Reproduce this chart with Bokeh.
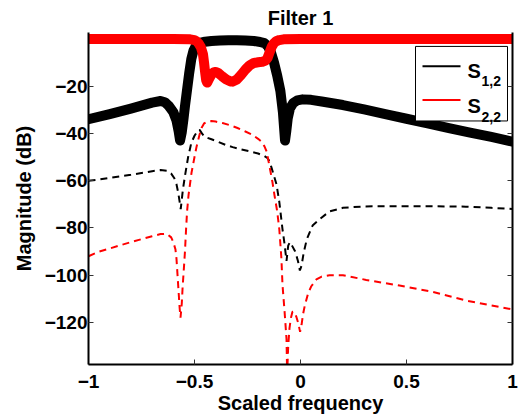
from bokeh.plotting import figure
from bokeh.models import Range1d, LinearAxis, FixedTicker, CustomJSTickFormatter, Label
from bokeh.embed import file_html
from bokeh.resources import INLINE

FONT = "Liberation Sans"

# ---- data ----
x_ticks = [-1, -0.5, 0, 0.5, 1]
y_ticks = [-120, -100, -80, -60, -40, -20]

s12_x = [-1.0, -0.9, -0.8, -0.7, -0.66, -0.64, -0.62, -0.60, -0.585, -0.575, -0.568, -0.56,
         -0.552, -0.545, -0.535, -0.525, -0.515, -0.505, -0.495, -0.485, -0.47, -0.45, -0.42, -0.38,
         -0.34, -0.30, -0.26, -0.22, -0.19, -0.17, -0.155, -0.14, -0.125, -0.11, -0.095, -0.083,
         -0.078, -0.073, -0.067, -0.06, -0.05, -0.035, -0.015, 0.01, 0.05, 0.1, 0.2, 0.3,
         0.4, 0.5, 0.6, 0.7, 0.8, 0.9, 1.0]
s12_db = [-34.0, -31.8, -29.5, -27.0, -26.3, -26.8, -28.5, -31.0, -34.5, -39.0, -43.0, -39.5,
          -34.0, -28.5, -21.5, -14.5, -8.5, -5.0, -3.2, -2.3, -1.6, -1.2, -0.9, -0.7,
          -0.6, -0.6, -0.7, -0.9, -1.3, -1.8, -3.0, -5.5, -10.0, -15.5, -22.0, -31.0,
          -37.0, -43.0, -39.0, -33.5, -29.5, -27.2, -26.0, -25.6, -25.8, -26.5, -28.0, -29.8,
          -31.8, -33.8, -35.8, -37.8, -39.7, -41.5, -43.5]

s22_x = [-1.0, -0.6, -0.52, -0.5, -0.49, -0.48, -0.47, -0.46, -0.455, -0.45, -0.445, -0.44,
         -0.432, -0.42, -0.41, -0.40, -0.39, -0.37, -0.35, -0.33, -0.32, -0.30, -0.28, -0.26,
         -0.24, -0.22, -0.20, -0.18, -0.165, -0.155, -0.145, -0.135, -0.125, -0.115, -0.10, -0.08,
         0.0, 0.5, 1.0]
s22_db = [-0.1, -0.1, -0.2, -0.5, -1.0, -2.0, -3.5, -6.5, -10.0, -14.0, -17.5, -18.5,
          -17.0, -15.0, -14.2, -14.0, -14.3, -15.8, -17.2, -18.0, -18.1, -17.2, -15.2, -13.0,
          -11.2, -10.2, -9.9, -9.7, -9.2, -8.0, -5.5, -3.2, -1.8, -1.0, -0.5, -0.2,
          -0.1, -0.1, -0.1]

s12_ref_x = [-1.0, -0.95, -0.9, -0.8, -0.7, -0.66, -0.63, -0.61, -0.595, -0.585, -0.577, -0.57,
             -0.565, -0.56, -0.555, -0.545, -0.53, -0.515, -0.5, -0.485, -0.476, -0.465, -0.453, -0.42,
             -0.39, -0.35, -0.32, -0.28, -0.24, -0.2, -0.17, -0.155, -0.145, -0.135, -0.125, -0.113,
             -0.1, -0.085, -0.075, -0.066, -0.058, -0.05, -0.04, -0.025, -0.012, -0.003, 0.005, 0.015,
             0.03, 0.057, 0.09, 0.137, 0.2, 0.3, 0.47, 0.6, 0.78, 0.9, 1.0]
s12_ref_db = [-60.0, -59.5, -58.8, -57.5, -56.0, -55.5, -55.8, -57.0, -59.0, -61.5, -65.0, -69.0,
              -72.0, -68.0, -64.0, -58.0, -50.0, -44.0, -41.0, -39.0, -38.5, -40.0, -41.4, -42.5,
              -43.5, -45.0, -45.8, -46.8, -47.6, -48.5, -49.6, -50.5, -52.0, -55.0, -58.0, -61.6,
              -69.0, -80.5, -87.0, -94.0, -87.5, -86.0, -87.5, -90.0, -94.0, -98.0, -96.0, -90.5,
              -84.7, -79.0, -76.3, -73.0, -71.5, -70.9, -70.8, -70.8, -71.0, -71.5, -72.0]

s22_ref_x = [-1.0, -0.95, -0.9, -0.8, -0.7, -0.66, -0.63, -0.61, -0.6, -0.59, -0.585, -0.58,
             -0.575, -0.57, -0.566, -0.56, -0.556, -0.55, -0.545, -0.54, -0.535, -0.528, -0.514, -0.5,
             -0.49, -0.476, -0.467, -0.455, -0.44, -0.42, -0.4, -0.368, -0.33, -0.297, -0.26, -0.226,
             -0.2, -0.184, -0.17, -0.16, -0.146, -0.132, -0.123, -0.11, -0.1, -0.09, -0.085, -0.075,
             -0.066, -0.063, -0.058, -0.052, -0.045, -0.038, -0.03, -0.02, -0.01, -0.002, 0.005, 0.012,
             0.02, 0.035, 0.05, 0.075, 0.1, 0.137, 0.2, 0.31, 0.467, 0.62, 0.78, 0.9, 1.0]
s22_ref_db = [-92.0, -90.0, -88.7, -86.0, -83.5, -82.6, -82.5, -84.0, -86.0, -89.0, -93.0, -100.0,
              -107.0, -114.0, -118.0, -112.0, -105.0, -97.0, -90.0, -81.0, -73.0, -66.0, -56.6, -50.0,
              -45.5, -40.5, -37.7, -35.8, -35.0, -34.8, -35.0, -35.6, -36.6, -37.7, -39.2, -40.6,
              -42.3, -43.5, -45.5, -47.6, -54.0, -60.8, -66.0, -73.0, -80.5, -93.0, -104.0, -115.5,
              -127.0, -142.0, -130.0, -122.5, -118.0, -115.5, -115.5, -117.5, -120.5, -124.0, -121.0, -116.5,
              -113.0, -108.0, -104.8, -101.8, -100.6, -100.0, -100.0, -102.0, -104.4, -107.0, -110.7, -112.8, -114.5]

legend_labels = [("S", "1,2"), ("S", "2,2")]
legend_colors = ["black", "red"]

# ---- figure ----
X_MIN, X_MAX = -1.0, 1.0
Y_MIN, Y_MAX = -137.8, 2.7
FRAME_W, FRAME_H = 424.0, 334.0

p = figure(width=522, height=416, output_backend="svg", toolbar_location=None,
           x_range=Range1d(X_MIN, X_MAX), y_range=Range1d(Y_MIN, Y_MAX),
           min_border_left=88, min_border_right=10, min_border_top=32, min_border_bottom=50,
           title="Filter 1")
p.outline_line_color = None
p.xgrid.visible = False
p.ygrid.visible = False
p.background_fill_color = "white"
p.border_fill_color = "white"

p.title.text_font = FONT
p.title.text_font_size = "20px"
p.title.text_font_style = "bold"
p.title.text_color = "black"
p.title.align = "center"
p.title.standoff = 8

minus_fmt = "return (tick < 0 ? '\u2212' : '') + Math.abs(tick);"

def style_axis(ax):
    ax.axis_line_width = 2
    ax.axis_line_color = "black"
    ax.major_tick_in = 5
    ax.major_tick_out = 0
    ax.major_tick_line_color = "#333333"
    ax.minor_tick_line_color = None
    ax.major_label_text_font = FONT
    ax.major_label_text_font_size = "19px"
    ax.major_label_text_font_style = "bold"
    ax.major_label_text_color = "black"
    ax.axis_label_text_font = FONT
    ax.axis_label_text_font_size = "20px"
    ax.axis_label_text_font_style = "bold"
    ax.axis_label_text_color = "black"

xa = p.xaxis[0]
xa.ticker = FixedTicker(ticks=x_ticks)
xa.formatter = CustomJSTickFormatter(code=minus_fmt)
xa.axis_label = "Scaled frequency"
style_axis(xa)
xa.major_label_standoff = 10
xa.axis_label_standoff = 1

ya = p.yaxis[0]
ya.ticker = FixedTicker(ticks=y_ticks)
ya.formatter = CustomJSTickFormatter(code=minus_fmt)
ya.axis_label = "Magnitude (dB)"
style_axis(ya)
ya.major_label_standoff = 1
ya.axis_label_standoff = 7

ra = LinearAxis(ticker=FixedTicker(ticks=y_ticks), formatter=CustomJSTickFormatter(code="return '';"))
style_axis(ra)
ra.major_label_standoff = 0
p.add_layout(ra, "right")

# ---- curves ----
p.line(s12_x, s12_db, line_color="black", line_width=10, line_join="round", line_cap="round")
p.line(s22_x, s22_db, line_color="red", line_width=10, line_join="round", line_cap="round")
p.line(s12_ref_x, s12_ref_db, line_color="black", line_width=2, line_dash="7 5")
p.line(s22_ref_x, s22_ref_db, line_color="red", line_width=2, line_dash="7 5")

# ---- legend (drawn by hand for subscripts); positions in frame pixels ----
def fx(px):
    return X_MIN + px * (X_MAX - X_MIN) / FRAME_W

def fy(py):
    return Y_MAX - py * (Y_MAX - Y_MIN) / FRAME_H

p.quad(left=[fx(327)], right=[fx(419)], top=[fy(14)], bottom=[fy(89)],
       fill_color="white", line_color="black", line_width=1)
row_line_y = [34, 68]
row_base_y = [39, 73.7]
row_sub_y = [48.7, 84.7]
for (main, sub), col, ly, by, sy in zip(legend_labels, legend_colors, row_line_y, row_base_y, row_sub_y):
    p.segment(x0=[fx(334)], x1=[fx(372)], y0=[fy(ly)], y1=[fy(ly)], line_color=col, line_width=2)
    p.add_layout(Label(x=fx(379), y=fy(by), text=main, text_font=FONT, text_font_size="20px",
                       text_font_style="bold", text_baseline="alphabetic", text_color="black"))
    p.add_layout(Label(x=fx(393), y=fy(sy), text=sub, text_font=FONT, text_font_size="14px",
                       text_font_style="bold", text_baseline="alphabetic", text_color="black"))

open("out.html", "w").write(file_html(p, INLINE))
